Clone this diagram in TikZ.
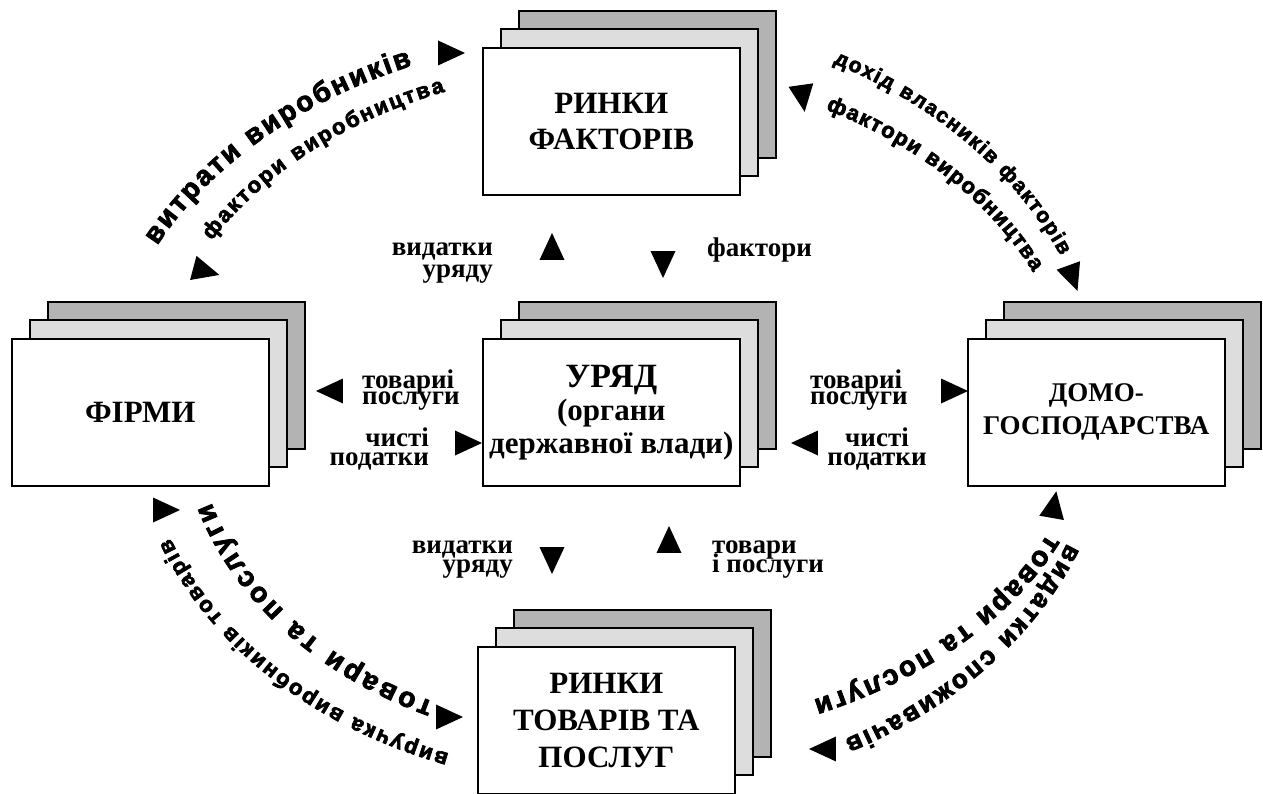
\documentclass[tikz,border=0pt]{standalone}
\usepackage{fontspec}
\setmainfont{Liberation Serif}
\newfontfamily\arcfont{Liberation Sans Bold}[FakeBold=3]
\usetikzlibrary{shapes.geometric,decorations.text}
\definecolor{backgray}{HTML}{B3B3B3}
\definecolor{midgray}{HTML}{DDDDDD}
\newcommand{\labfont}[1]{\bfseries\fontsize{27}{#1}\selectfont\lineskiplimit=-50pt\relax}
\newcommand{\stackbox}[5]{%
  \node[layer, fill=backgray] (#1-back) at ({#2+36},{#3-37}) {};
  \node[layer, fill=midgray] (#1-mid) at ({#2+18},{#3-19}) {};
  \node[layer, fill=white, font=#4] (#1) at (#2,#3) {#5};
}
% style, text, x radius, y radius, start theta, end theta (pixel coords, y down)
\newcommand{\arctext}[6]{%
  \path[#1={#2}] ({610+#3*cos(#5)},{411+#4*sin(#5)}) arc[start angle={-#5}, end angle={-#6}, x radius=#3pt, y radius=#4pt];
}
\begin{document}
\begin{tikzpicture}[x=1pt,y=-1pt,
  layer/.style={draw=black, line width=1.6pt, minimum width=257pt, minimum height=147pt, inner sep=0pt, anchor=north west, align=center},
  lbl/.style={font=\labfont{#1}, inner sep=0pt},
  lbl/.default=19,
  tri/.style={shape=isosceles triangle, isosceles triangle stretches, fill=black, inner sep=0pt, minimum width=25pt, minimum height=27pt},
  arcbig/.style={decorate, decoration={text along path, text align={fit to path}, raise=-7.5pt, text={|\arcfont\fontsize{28}{28}\selectfont|#1}}},
  arcmid/.style={decorate, decoration={text along path, text align={fit to path}, raise=-7pt, text={|\arcfont\fontsize{26}{26}\selectfont|#1}}},
  arcsmall/.style={decorate, decoration={text along path, text align={fit to path}, raise=-5.8pt, text={|\arcfont\fontsize{22}{22}\selectfont|#1}}},
  arctiny/.style={decorate, decoration={text along path, text align={fit to path}, raise=-5.5pt, text={|\arcfont\fontsize{21}{21}\selectfont|#1}}},
]
\useasboundingbox (0,0) rectangle (1263,794);
\fill[white] (0,0) rectangle (1263,794);

\stackbox{fm}{482}{47}{\bfseries\fontsize{31}{36}\selectfont}{РИНКИ\\ФАКТОРІВ}
\stackbox{firms}{11}{338}{\bfseries\fontsize{31}{36}\selectfont}{ФІРМИ}
\stackbox{gov}{482}{338}{\bfseries\fontsize{31}{33}\selectfont}{{\fontsize{34}{36}\selectfont УРЯД}\\(органи\\державної влади)}
\stackbox{hh}{967}{338}{\bfseries\fontsize{27}{33}\selectfont}{ДОМО-\\ГОСПОДАРСТВА}
\stackbox{gm}{477}{646}{\bfseries\fontsize{31}{37}\selectfont}{РИНКИ\\ТОВАРІВ ТА\\ПОСЛУГ}

% arc texts
\arctext{arcbig}{витрати виробників}{512}{383}{206.3}{247}
\arctext{arcsmall}{фактори виробництва}{465}{348}{210}{249}
\arctext{arctiny}{дохід власників факторів}{496.5}{396}{297}{336.5}
\arctext{arcsmall}{фактори виробництва}{469}{346.5}{297.7}{335.8}
\arctext{arcbig}{товари та послуги}{423.5}{328.8}{115}{163.3}
\arctext{arcsmall}{виручка виробників товарів}{475}{370.5}{110}{159.5}
\arctext{arcbig}{товари та послуги}{481.5}{327.5}{22.8}{64.7}
\arctext{arcmid}{видатки споживачів}{495.7}{381.3}{20.8}{61.4}

% arc triangles
\node[tri] (tTL1) at (446,53) {};
\node[tri, rotate=-15] (tTL2) at (201,270) {};
\node[tri, rotate=-82] (tTR1) at (802,93) {};
\node[tri, rotate=-70] (tTR2) at (1071,273) {};
\node[tri] (tBL1) at (161,510) {};
\node[tri] (tBL2) at (444,717) {};
\node[tri, rotate=80] (tBR1) at (1053,510) {};
\node[tri, rotate=180] (tBR2) at (828,749) {};

% middle triangles
\node[tri, rotate=90] (mTU) at (552,252) {};
\node[tri, rotate=-90] (mTD) at (663,259) {};
\node[tri, rotate=180] (mLL) at (335,391) {};
\node[tri] (mLR) at (463,443) {};
\node[tri] (mRR) at (949,391) {};
\node[tri, rotate=180] (mRL) at (810,443) {};
\node[tri, rotate=-90] (mBD) at (552,555) {};
\node[tri, rotate=90] (mBU) at (669,545) {};

% labels (anchor at baseline of last line)
\node[lbl=21, align=right, anchor=base east] (lgovT) at (493,277) {видатки\\уряду};
\node[lbl, anchor=base west] (lfacT) at (707,257) {фактори};
\node[lbl=16.5, align=left, anchor=base west] (lgsL) at (362,404.5) {товариі\\послуги};
\node[lbl, align=right, anchor=base east] (ltaxL) at (429,465) {чисті\\податки};
\node[lbl=16.5, align=left, anchor=base west] (lgsR) at (810,404.5) {товариі\\послуги};
\node[lbl, align=center, anchor=base] (ltaxR) at (877,465) {чисті\\податки};
\node[lbl, align=right, anchor=base east] (lgovB) at (513,572) {видатки\\уряду};
\node[lbl, align=left, anchor=base west] (lgsB) at (712,572) {товари\\і послуги};
\end{tikzpicture}
\end{document}
